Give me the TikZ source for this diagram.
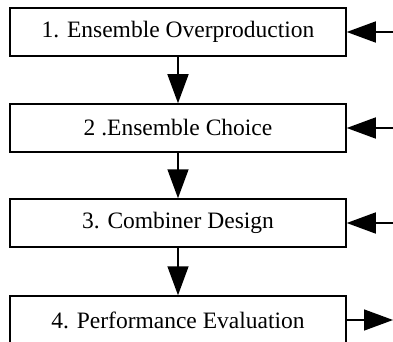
\documentclass[tikz,border=0pt]{standalone}
\usepackage{fontspec}
\setmainfont{Liberation Serif}
\usetikzlibrary{arrows.meta}

\begin{document}
\begin{tikzpicture}[x=1pt,y=-1pt,
  stage/.style={draw, line width=1.5pt, minimum width=336pt, minimum height=48pt,
    inner sep=0pt, font=\fontsize{23.5}{28}\selectfont},
  flow/.style={line width=1.5pt, -{Triangle[length=29pt,width=21pt]}}]
\useasboundingbox (0,0) rectangle (393,342);
\node[stage] (over) at (178,32) {1. Ensemble Overproduction};
\node[stage] (choice) at (178,128) {2 .Ensemble Choice};
\node[stage] (comb) at (178,223) {3. Combiner Design};
\node[stage] (eval) at (178,320) {4. Performance Evaluation};
\coordinate (inOver) at (393,32);
\coordinate (inChoice) at (393,128);
\coordinate (inComb) at (393,223);
\coordinate (outEval) at (393,320);
\draw[flow] (over) -- (choice);
\draw[flow] (choice) -- (comb);
\draw[flow] (comb) -- (eval);
\draw[flow] (inOver) -- (over);
\draw[flow] (inChoice) -- (choice);
\draw[flow] (inComb) -- (comb);
\draw[flow] (eval) -- (outEval);
\end{tikzpicture}
\end{document}
